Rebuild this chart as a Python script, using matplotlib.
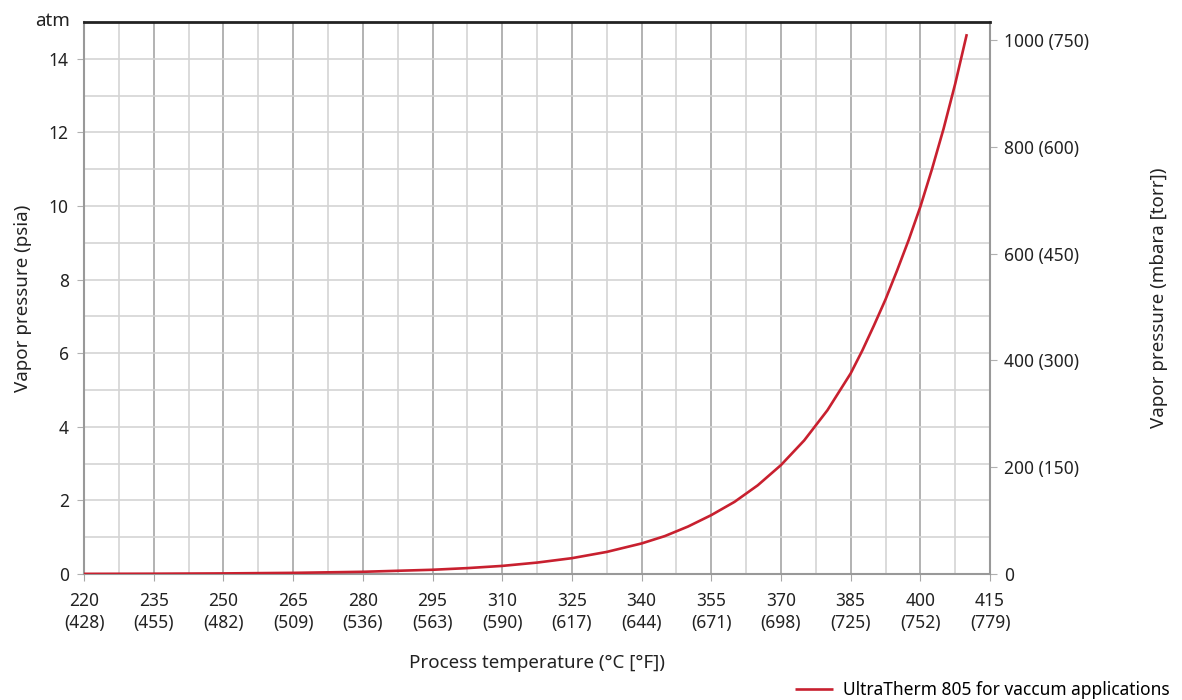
import matplotlib.pyplot as plt
import numpy as np
from matplotlib.ticker import FixedLocator

plt.rcParams['font.family'] = ['Noto Sans', 'DejaVu Sans']

# vapor pressure curve (deg C, psia)
temp_c = [220, 235, 250, 265, 280, 295, 302.5, 310, 317.5, 325, 332.5, 340,
          345, 350, 355, 360, 365, 370, 375, 380, 385, 387.5, 390, 392.5, 395,
          397.5, 400, 402.5, 405, 407.5, 410]
psia = [0.004, 0.008, 0.016, 0.031, 0.06, 0.115, 0.16, 0.22, 0.31, 0.43, 0.60,
        0.83, 1.03, 1.29, 1.60, 1.96, 2.41, 2.96, 3.63, 4.45, 5.45, 6.07, 6.75,
        7.46, 8.25, 9.08, 9.98, 11.0, 12.10, 13.32, 14.67]

x_ticks = [220, 235, 250, 265, 280, 295, 310, 325, 340, 355, 370, 385, 400, 415]
x_labels_f = [428, 455, 482, 509, 536, 563, 590, 617, 644, 671, 698, 725, 752, 779]
right_ticks = [0, 200, 400, 600, 800, 1000]
right_labels = ["0", "200 (150)", "400 (300)", "600 (450)", "800 (600)", "1000 (750)"]

PSI_TO_MBAR = 68.9476
red = "#c8202f"
fs = 12.5

fig = plt.figure(figsize=(11.82, 7.0), dpi=100)
ax = fig.add_axes([0.0711, 0.18, 0.7665, 0.7886])

ax.plot(temp_c, psia, color=red, lw=1.9, solid_capstyle='butt',
        label="UltraTherm 805 for vaccum applications", zorder=3)

ax.set_xlim(220, 415)
ax.set_ylim(0, 15)

ax.set_xticks(x_ticks)
ax.set_xticklabels([f"{c}\n({f})" for c, f in zip(x_ticks, x_labels_f)], fontsize=fs,
                   linespacing=1.3)
# minor grid halfway between the labelled temperatures
ax.xaxis.set_minor_locator(FixedLocator([t + 7.5 for t in x_ticks[:-1]]))
ax.set_yticks(range(0, 15, 2))
ax.set_yticklabels([str(v) for v in range(0, 15, 2)], fontsize=fs)
ax.yaxis.set_minor_locator(FixedLocator(range(1, 16, 2)))

ax.grid(which='major', axis='x', color='#a6a6a6', lw=1.2)
ax.grid(which='minor', axis='x', color='#d4d4d4', lw=1.2)
ax.grid(which='both', axis='y', color='#d4d4d4', lw=1.2)
ax.set_axisbelow(True)

ax.tick_params(axis='x', which='major', length=5, color='#a6a6a6', colors='#222222', pad=8)
ax.tick_params(axis='y', which='major', length=5, color='#b0b0b0', colors='#222222', pad=6)
ax.tick_params(which='minor', length=0)

for side in ['left', 'bottom', 'right']:
    ax.spines[side].set_color('#999999')
    ax.spines[side].set_linewidth(1.5)
ax.spines['top'].set_color('#222222')
ax.spines['top'].set_linewidth(2)

ax.set_xlabel("Process temperature (°C [°F])", fontsize=fs + 1, color='#222222', labelpad=16)
ax.set_ylabel("Vapor pressure (psia)", fontsize=fs + 1, color='#222222', labelpad=12)

ax.annotate("atm", xy=(0, 15), xycoords=('axes fraction', 'data'),
            xytext=(-10, -3), textcoords='offset points', ha='right', va='baseline',
            fontsize=fs + 1, color='#222222')

sec = ax.secondary_yaxis('right', functions=(lambda p: p * PSI_TO_MBAR,
                                             lambda m: m / PSI_TO_MBAR))
sec.set_yticks(right_ticks)
sec.set_yticklabels(right_labels, fontsize=fs)
sec.tick_params(length=5, color='#b0b0b0', colors='#222222', pad=5)
sec.spines['right'].set_visible(False)
sec.set_ylabel("Vapor pressure (mbara [torr])", fontsize=fs + 1, color='#222222', labelpad=44)

fig.legend(loc='lower right', bbox_to_anchor=(1.003, -0.021), frameon=False,
           fontsize=fs, handlelength=2.2, handletextpad=0.6)

fig.savefig("out.png", dpi=100)
